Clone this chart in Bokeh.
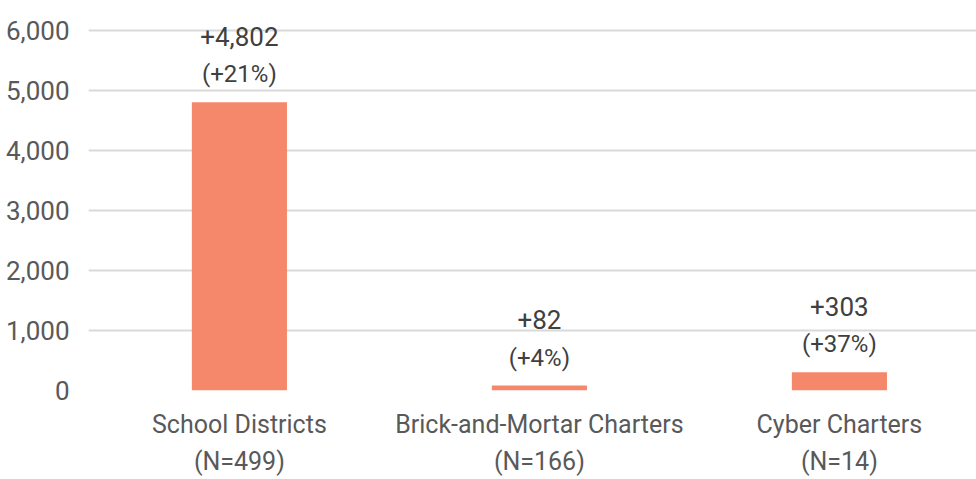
import numpy as np
from bokeh.plotting import figure
from bokeh.models import ColumnDataSource, Range1d, FixedTicker, NumeralTickFormatter
from bokeh.core.properties import value
from bokeh.embed import file_html
from bokeh.resources import INLINE

categories = ["School Districts", "Brick-and-Mortar Charters", "Cyber Charters"]
counts = ["(N=499)", "(N=166)", "(N=14)"]
changes = [4802, 82, 303]
change_labels = ["+4,802", "+82", "+303"]
pct_labels = ["(+21%)", "(+4%)", "(+37%)"]
y_ticks = [0, 1000, 2000, 3000, 4000, 5000, 6000]

FONT = "Roboto"
x = list(np.arange(len(categories)))

src = ColumnDataSource(dict(x=x, top=changes, lab=change_labels, pct=pct_labels))

p = figure(width=976, height=479, output_backend="svg", toolbar_location=None,
           x_range=Range1d(-0.503, 2.457), y_range=Range1d(0, 6333),
           min_border_left=88, min_border_right=0, min_border_top=10, min_border_bottom=89)
p.outline_line_color = None
p.background_fill_color = "white"
p.border_fill_color = "white"

p.ygrid.ticker = FixedTicker(ticks=y_ticks)
p.ygrid.grid_line_color = "#D9D9D9"
p.ygrid.grid_line_width = 2
p.xgrid.grid_line_color = None

p.vbar(x="x", top="top", width=0.317, source=src, color="#F5876B", line_color=None)

p.text(x="x", y="top", text="lab", source=src, y_offset=-66, text_align="center",
       text_baseline="middle", text_font=value(FONT), text_font_size="26px", text_color="#404040")
p.text(x="x", y="top", text="pct", source=src, y_offset=-28, text_align="center",
       text_baseline="middle", text_font=value(FONT), text_font_size="24px", text_color="#404040")

p.yaxis.ticker = FixedTicker(ticks=y_ticks)
p.yaxis.formatter = NumeralTickFormatter(format="0,0")
p.yaxis.axis_line_color = None
p.yaxis.major_tick_line_color = None
p.yaxis.minor_tick_line_color = None
p.yaxis.major_label_text_font = FONT
p.yaxis.major_label_text_font_size = "26px"
p.yaxis.major_label_text_color = "#595959"
p.yaxis.major_label_standoff = 13

p.xaxis.ticker = FixedTicker(ticks=x)
p.xaxis.major_label_overrides = {int(i): f"{c}\n{n}" for i, c, n in zip(x, categories, counts)}
p.xaxis.axis_line_color = None
p.xaxis.major_tick_line_color = None
p.xaxis.minor_tick_line_color = None
p.xaxis.major_label_text_font = FONT
p.xaxis.major_label_text_font_size = "25px"
p.xaxis.major_label_text_line_height = 1.28
p.xaxis.major_label_text_color = "#595959"
p.xaxis.major_label_standoff = 13

open("out.html", "w").write(file_html(p, INLINE))
